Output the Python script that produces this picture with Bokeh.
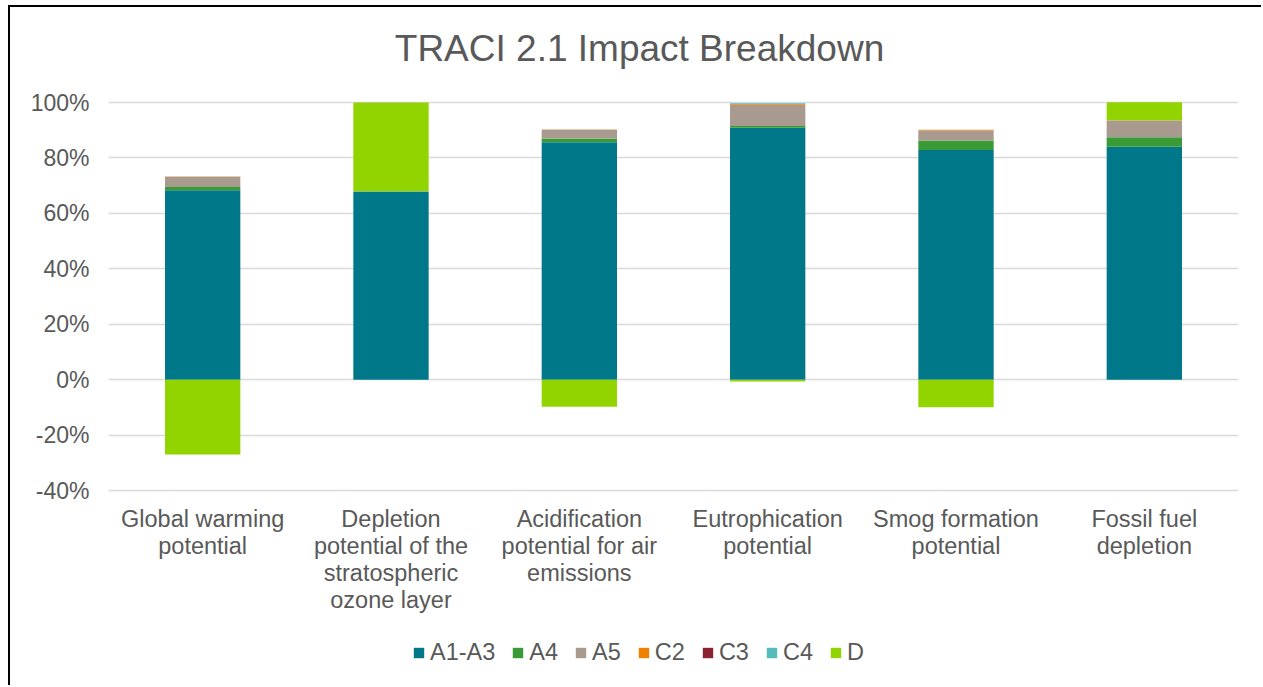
import numpy as np
from bokeh.plotting import figure
from bokeh.models import (ColumnDataSource, FactorRange, Range1d, FixedTicker,
                          PrintfTickFormatter, Legend, LegendItem, Label)
from bokeh.core.properties import value
from bokeh.embed import file_html
from bokeh.resources import INLINE

categories = [
    "Global warming\npotential",
    "Depletion\npotential of the\nstratospheric\nozone layer",
    "Acidification\npotential for air\nemissions",
    "Eutrophication\npotential",
    "Smog formation\npotential",
    "Fossil fuel\ndepletion",
]
series_names = ["A1-A3", "A4", "A5", "C2", "C3", "C4", "D"]
A1_A3 = [68.3, 67.9, 85.7, 90.9, 82.9, 84.0]
A4 = [1.2, 0.0, 1.3, 0.6, 3.4, 3.5]
A5 = [3.7, 0.1, 3.2, 7.7, 3.6, 6.0]
C2 = [0.1, 0.0, 0.1, 0.3, 0.3, 0.1]
C3 = [0.0, 0.0, 0.0, 0.0, 0.0, 0.0]
C4 = [0.0, 0.0, 0.0, 0.2, 0.0, 0.0]
D = [-27.0, 32.0, -9.8, -0.7, -10.0, 6.5]
y_ticks = [-40, -20, 0, 20, 40, 60, 80, 100]
title_text = "TRACI 2.1 Impact Breakdown"

colors = ["#00788A", "#3A9A35", "#A89A8E", "#F08000", "#8B2232", "#55BBBB", "#92D400"]
series = [A1_A3, A4, A5, C2, C3, C4, D]

TXT = "#595959"
FONT = "Liberation Sans"

# pixel layout of the canvas (canvas height 680, frame spans the full height)
W, H = 1253, 680
LEFT, RIGHT = 98, 25
AX_TOP_PX = 95      # px from canvas top to the 100% line
AX_H_PX = 388       # px from 100% to -40%
ppu = AX_H_PX / (y_ticks[-1] - y_ticks[0])
y_max = y_ticks[-1] + AX_TOP_PX / ppu
y_min = y_ticks[0] - (H - AX_TOP_PX - AX_H_PX) / ppu
ppx = (W - LEFT - RIGHT) / len(categories)

p = figure(width=W, height=H, x_range=FactorRange(*categories, range_padding=0),
           y_range=Range1d(y_min, y_max), output_backend="svg", toolbar_location=None,
           min_border_left=LEFT, min_border_right=RIGHT, min_border_top=0,
           min_border_bottom=0, outline_line_color=None,
           background_fill_color="white", border_fill_color="white",
           styles={"border-left": "2px solid #000000", "border-top": "2px solid #000000",
                   "margin-left": "8px", "margin-top": "5px"})

pos_base = np.zeros(len(categories))
neg_base = np.zeros(len(categories))
items = []
for name, vals, col in zip(series_names, series, colors):
    v = np.array(vals, dtype=float)
    bottom = np.where(v >= 0, pos_base, neg_base)
    top = bottom + v
    pos_base = np.where(v >= 0, top, pos_base)
    neg_base = np.where(v < 0, top, neg_base)
    src = ColumnDataSource(dict(x=categories, top=top, bottom=bottom))
    r = p.vbar(x="x", top="top", bottom="bottom", width=0.4, source=src,
               fill_color=col, line_color=None)
    items.append(LegendItem(label=name, renderers=[r]))

# category labels below the -40% line
lab_src = ColumnDataSource(dict(x=categories, y=[y_ticks[0] - 15 / ppu] * len(categories)))
p.text(x="x", y="y", text="x", source=lab_src, text_align="center", text_baseline="top",
       text_font=value(FONT), text_font_size="23.5px", text_color=TXT,
       text_line_height=1.05)

# title
p.add_layout(Label(x=len(categories) / 2 - 34 / ppx, y=y_ticks[-1] + 54 / ppu,
                   text=title_text, text_align="center", text_baseline="middle",
                   text_font=FONT, text_font_size="37px", text_color=TXT))

legend = Legend(items=items, orientation="horizontal", location=(304, 21),
                glyph_width=13, glyph_height=13, label_standoff=5, spacing=16,
                padding=0, margin=0, border_line_color=None, background_fill_alpha=0,
                label_text_font=FONT, label_text_font_size="23.5px", label_text_color=TXT,
                label_height=26)
p.add_layout(legend, "center")

p.xaxis.visible = False
p.yaxis.ticker = FixedTicker(ticks=y_ticks)
p.yaxis.formatter = PrintfTickFormatter(format="%d%%")
p.yaxis.axis_line_color = None
p.yaxis.major_tick_line_color = None
p.yaxis.minor_tick_line_color = None
p.yaxis.major_label_standoff = 13
p.yaxis.major_label_text_font = FONT
p.yaxis.major_label_text_font_size = "23px"
p.yaxis.major_label_text_color = TXT

p.xgrid.grid_line_color = None
p.ygrid.grid_line_color = "#D9D9D9"
p.ygrid.grid_line_width = 1.5
p.ygrid.ticker = FixedTicker(ticks=y_ticks)

open("out.html", "w").write(file_html(p, INLINE))
